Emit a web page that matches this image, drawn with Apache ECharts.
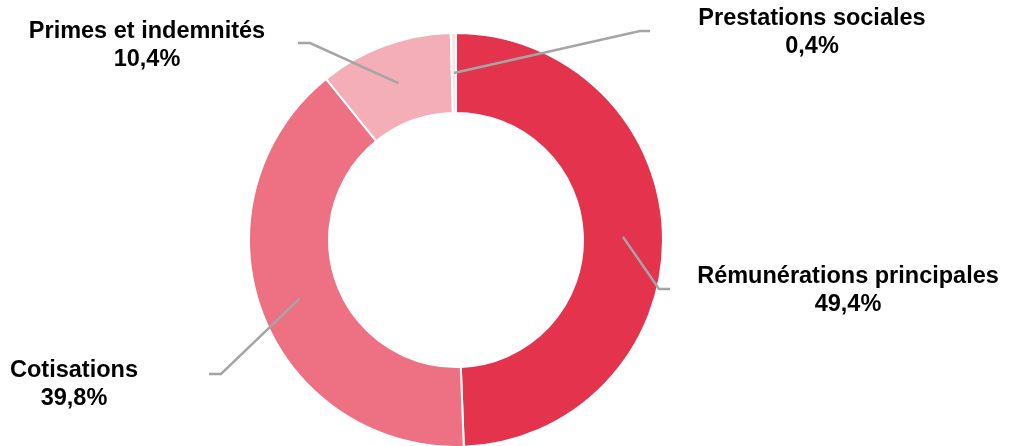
<!DOCTYPE html>
<html>
<head>
<meta charset="utf-8">
<script src="https://cdn.jsdelivr.net/npm/echarts@6/dist/echarts.min.js"></script>
<style>
  html, body { margin: 0; padding: 0; background: #ffffff; }
  #chart { width: 1011px; height: 446px; }
</style>
</head>
<body>
<div id="chart"></div>
<script>
// Répartition des dépenses de personnel (en %)
const categories = [
  'Rémunérations principales',
  'Cotisations',
  'Primes et indemnités',
  'Prestations sociales'
];
const shares = [49.4, 39.8, 10.4, 0.4];
const colors = ['#E4334D', '#ED7083', '#F4AEB8', '#FCE3E7'];

// Ring geometry
const CX = 456, CY = 240, R_IN = 127, R_OUT = 207;
const R_MID = (R_IN + R_OUT) / 2;

// Label placement: text block centre and elbow / end of the leader line
const labelPlacement = {
  'Rémunérations principales': { text: [848, 291], elbow: [659, 289], end: [670, 289] },
  'Cotisations':               { text: [74, 385],  elbow: [221, 374], end: [209, 374] },
  'Primes et indemnités':      { text: [147, 46],  elbow: [310, 43],  end: [298, 43] },
  'Prestations sociales':      { text: [812, 33],  elbow: [640, 31],  end: [650, 31] }
};

// Mid angle of each slice, clockwise from 12 o'clock
const total = shares.reduce((a, b) => a + b, 0);
const midAngles = [];
let acc = 0;
shares.forEach(v => {
  midAngles.push(((acc + v / 2) / total) * 2 * Math.PI);
  acc += v;
});

// Point in the middle of the ring, on the slice's bisector
const ringMidPoint = i => [
  CX + R_MID * Math.sin(midAngles[i]),
  CY - R_MID * Math.cos(midAngles[i])
];

const fmt = v => v.toFixed(1).replace('.', ',') + '%';

const chart = echarts.init(document.getElementById('chart'), null, { renderer: 'canvas' });
chart.setOption({
  animation: false,
  series: [
    {
      type: 'pie',
      z: 2,
      center: [CX, CY],
      radius: [R_IN, R_OUT],
      startAngle: 90,
      clockwise: true,
      avoidLabelOverlap: false,
      silent: true,
      emphasis: { disabled: true },
      data: categories.map((name, i) => ({
        name: name,
        value: shares[i],
        itemStyle: { color: colors[i] }
      })),
      itemStyle: { borderColor: '#ffffff', borderWidth: 2 },
      label: {
        show: true,
        position: 'outside',
        formatter: p => p.name + '\n' + fmt(p.value),
        fontFamily: '"Liberation Sans", Arial, sans-serif',
        fontWeight: 'bold',
        fontSize: 23.5,
        lineHeight: 28,
        color: '#000000',
        align: 'center'
      },
      labelLine: { show: false },
      labelLayout: function (params) {
        const place = labelPlacement[categories[params.dataIndex]];
        return {
          x: place.text[0],
          y: place.text[1],
          align: 'center',
          verticalAlign: 'middle'
        };
      }
    },
    // Leader lines, drawn over the ring
    {
      type: 'custom',
      coordinateSystem: 'none',
      z: 10,
      silent: true,
      data: categories.map((c, i) => [i]),
      renderItem: function (params) {
        const i = params.dataIndex;
        const place = labelPlacement[categories[i]];
        return {
          type: 'polyline',
          shape: { points: [ringMidPoint(i), place.elbow, place.end] },
          style: { stroke: '#A5A5A5', lineWidth: 2.5, fill: null }
        };
      }
    }
  ]
});
</script>
</body>
</html>
